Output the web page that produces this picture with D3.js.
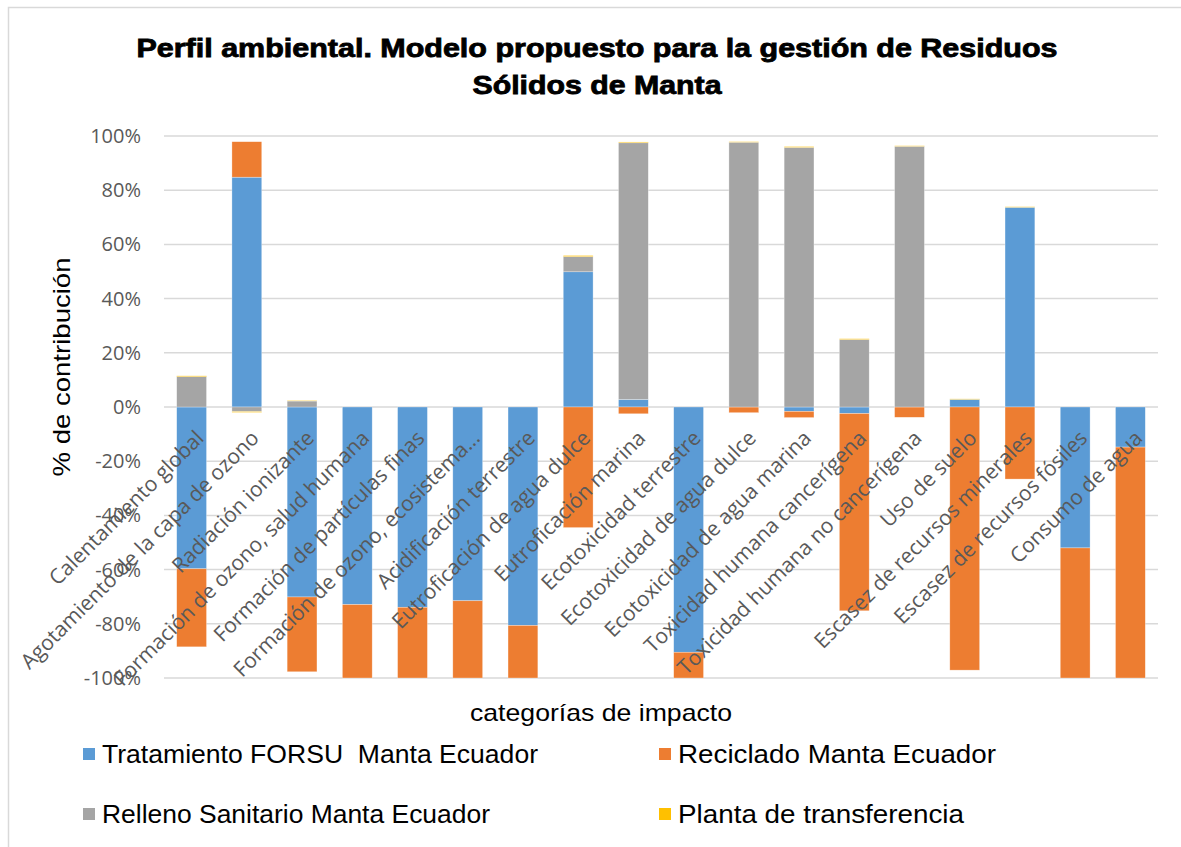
<!DOCTYPE html>
<html>
<head>
<meta charset="utf-8">
<script src="https://cdn.jsdelivr.net/npm/d3@7"></script>
<style>
  body { margin: 0; background: #fff; }
  text { font-family: "Liberation Sans", Arial, sans-serif; }
</style>
</head>
<body>
<svg width="1181" height="847"></svg>
<script>
var width = 1181, height = 847;

// categorias de impacto
var categories = [
  "Calentamiento global",
  "Agotamiento de la capa de ozono",
  "Radiación ionizante",
  "Formación de ozono, salud humana",
  "Formación de partículas finas",
  "Formación de ozono, ecosistema...",
  "Acidificación terrestre",
  "Eutroficación de agua dulce",
  "Eutroficación marina",
  "Ecotoxicidad terrestre",
  "Ecotoxicidad de agua dulce",
  "Ecotoxicidad de agua marina",
  "Toxicidad humana cancerígena",
  "Toxicidad humana no cancerígena",
  "Uso de suelo",
  "Escasez de recursos minerales",
  "Escasez de recursos fósiles",
  "Consumo de agua"
];

var seriesNames = [
  "Tratamiento FORSU  Manta Ecuador",
  "Reciclado Manta Ecuador",
  "Relleno Sanitario Manta Ecuador",
  "Planta de transferencia"
];

// % de contribucion
var tratamiento = [-59.7, 84.8, -70.1, -72.9, -73.9, -71.5, -80.6, 49.9, 2.8, -90.5, 0, -1.6, -2.4, 0, 2.8, 73.7, -52.0, -14.8];
var reciclado   = [-28.8, 13.1, -27.6, -27.1, -26.1, -28.5, -19.4, -44.5, -2.5, -9.5, -2.1, -2.3, -72.8, -3.8, -97.1, -26.6, -48.0, -85.2];
var relleno     = [11.2, -1.7, 2.2, 0, 0, 0, 0, 5.6, 94.7, 0, 97.7, 95.8, 24.9, 96.2, 0, 0, 0, 0];
var planta      = [0.3, -0.3, 0.2, 0, 0, 0, 0, 0.4, 0.3, 0, 0.2, 0.3, 0.3, 0.2, 0.2, 0.2, 0, 0];

var yTicks = [-100, -80, -60, -40, -20, 0, 20, 40, 60, 80, 100];
var colors = ["#5B9BD5", "#ED7D31", "#A5A5A5", "#FFC000"];

var rows = categories.map(function(c, i) {
  return {cat: c, s0: tratamiento[i], s1: reciclado[i], s2: relleno[i], s3: planta[i]};
});

var svg = d3.select("svg");

// chart border
svg.append("rect")
    .attr("x", 8.5).attr("y", 7.5)
    .attr("width", width).attr("height", height)
    .attr("fill", "none")
    .attr("stroke", "#D9D9D9")
    .attr("stroke-width", 1.5);

var x = d3.scaleBand().domain(categories).range([164, 1158]).paddingInner(0.46).paddingOuter(0.23);
var y = d3.scaleLinear().domain([-100, 100]).range([678, 136]);

// grid
svg.append("g").selectAll("line")
  .data(yTicks)
  .enter().append("line")
    .attr("x1", 164).attr("x2", 1158)
    .attr("y1", function(d) { return y(d); })
    .attr("y2", function(d) { return y(d); })
    .attr("stroke", "#D9D9D9")
    .attr("stroke-width", 1.5);

// y axis labels
svg.append("g").selectAll("text")
  .data(yTicks)
  .enter().append("text")
    .attr("x", 141)
    .attr("y", function(d) { return y(d); })
    .attr("dy", "0.35em")
    .attr("text-anchor", "end")
    .attr("fill", "#595959")
    .style("font-family", "'Open Sans', sans-serif")
    .style("font-size", "20px")
    .text(function(d) { return d + "%"; });

var stack = d3.stack()
    .keys(["s0", "s1", "s2", "s3"])
    .offset(d3.stackOffsetDiverging);

var layers = stack(rows);

svg.append("g").selectAll("g")
  .data(layers)
  .enter().append("g")
    .attr("fill", function(d, i) { return colors[i]; })
  .selectAll("rect")
  .data(function(d) { return d; })
  .enter().append("rect")
    .attr("x", function(d) { return x(d.data.cat); })
    .attr("width", x.bandwidth())
    .attr("y", function(d) { return y(Math.max(d[0], d[1])); })
    .attr("height", function(d) { return Math.abs(y(d[0]) - y(d[1])); })
    .attr("stroke", "#fff")
    .attr("stroke-opacity", 0.5)
    .attr("stroke-width", 0.6);

// category labels, rotated, at the zero line
svg.append("g").selectAll("text")
  .data(categories)
  .enter().append("text")
    .attr("transform", function(d) {
      return "translate(" + (x(d) + x.bandwidth() / 2 + 3) + "," + (y(0) + 22) + ") rotate(-45)";
    })
    .attr("text-anchor", "end")
    .attr("dy", "0.7em")
    .attr("fill", "#595959")
    .style("font-family", "'Open Sans', sans-serif")
    .style("font-size", "21px")
    .text(function(d) { return d; });

// titles
svg.append("text")
    .attr("x", 597).attr("y", 57)
    .attr("text-anchor", "middle")
    .attr("textLength", 921)
    .attr("lengthAdjust", "spacingAndGlyphs")
    .attr("stroke", "#000").attr("stroke-width", 0.8)
    .style("font-size", "25px").style("font-weight", "bold")
    .text("Perfil ambiental. Modelo propuesto para la gestión de Residuos");
svg.append("text")
    .attr("x", 597).attr("y", 94)
    .attr("text-anchor", "middle")
    .attr("textLength", 249)
    .attr("lengthAdjust", "spacingAndGlyphs")
    .attr("stroke", "#000").attr("stroke-width", 0.8)
    .style("font-size", "25px").style("font-weight", "bold")
    .text("Sólidos de Manta");

svg.append("text")
    .attr("transform", "translate(70,367) rotate(-90)")
    .attr("text-anchor", "middle")
    .attr("textLength", 219)
    .attr("lengthAdjust", "spacingAndGlyphs")
    .style("font-size", "24px")
    .text("% de contribución");

svg.append("text")
    .attr("x", 601).attr("y", 721)
    .attr("text-anchor", "middle")
    .attr("textLength", 262)
    .attr("lengthAdjust", "spacingAndGlyphs")
    .style("font-size", "24px")
    .text("categorías de impacto");

// legend
var legendPos = [[83, 748], [659, 748], [83, 808], [659, 808]];
var legendWidths = [436, 318, 388, 286];
var legend = svg.append("g").selectAll("g")
  .data(seriesNames)
  .enter().append("g")
    .attr("transform", function(d, i) { return "translate(" + legendPos[i][0] + "," + legendPos[i][1] + ")"; });
legend.append("rect")
    .attr("width", 12).attr("height", 12)
    .attr("fill", function(d, i) { return colors[i]; });
legend.append("text")
    .attr("x", 19).attr("y", 15)
    .attr("textLength", function(d, i) { return legendWidths[i]; })
    .attr("lengthAdjust", "spacingAndGlyphs")
    .style("white-space", "pre")
    .style("font-size", "25px")
    .text(function(d) { return d; });
</script>
</body>
</html>
